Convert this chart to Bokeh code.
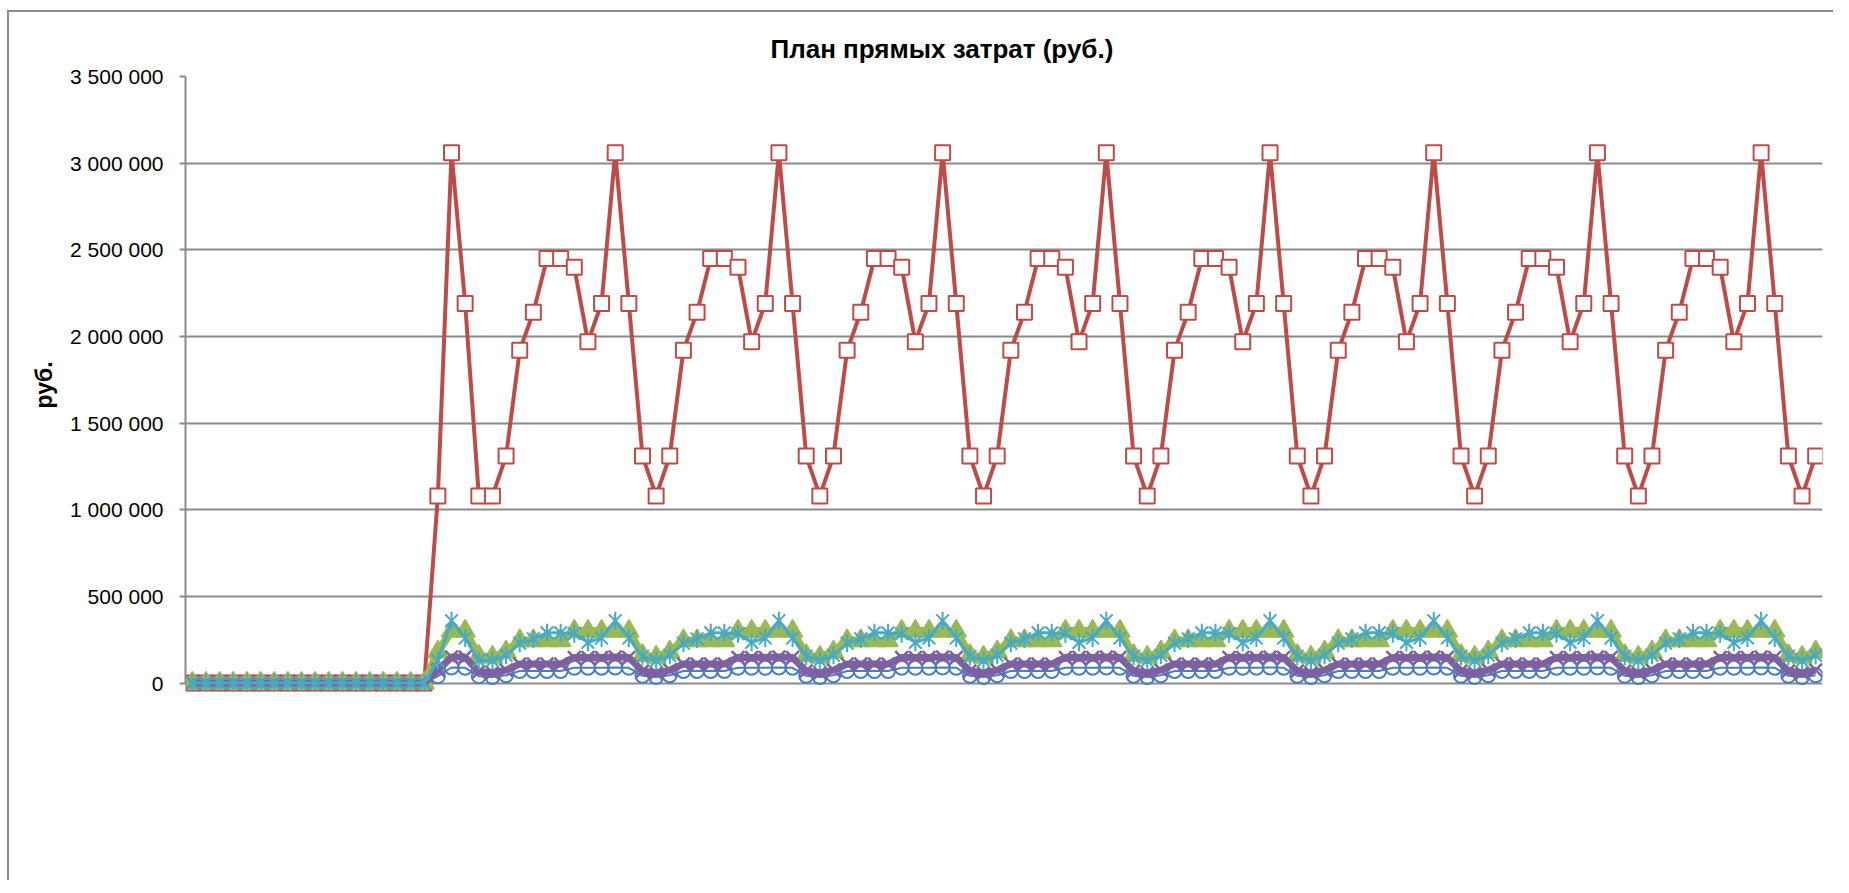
from bokeh.plotting import figure
from bokeh.models import FixedTicker, CustomJSTickFormatter, Range1d, Title
from bokeh.embed import file_html
from bokeh.resources import INLINE
import numpy as np

# Monthly plan of direct costs, thousands of rubles (120 months)
months = list(range(1, 121))

red_k = [0]*18 + [
    1080, 3060, 2190, 1080, 1080, 1310, 1920, 2140, 2450, 2450, 2400, 1970, 2190,
    3060, 2190, 1310, 1080, 1310, 1920, 2140, 2450, 2450, 2400, 1970, 2190,
    3060, 2190, 1310, 1080, 1310, 1920, 2140, 2450, 2450, 2400, 1970, 2190,
    3060, 2190, 1310, 1080, 1310, 1920, 2140, 2450, 2450, 2400, 1970, 2190,
    3060, 2190, 1310, 1080, 1310, 1920, 2140, 2450, 2450, 2400, 1970, 2190,
    3060, 2190, 1310, 1080, 1310, 1920, 2140, 2450, 2450, 2400, 1970, 2190,
    3060, 2190, 1310, 1080, 1310, 1920, 2140, 2450, 2450, 2400, 1970, 2190,
    3060, 2190, 1310, 1080, 1310, 1920, 2140, 2450, 2450, 2400, 1970, 2190,
    3060, 2190, 1310, 1080, 1310]

cyan_k = [0]*18 + [
    130, 360, 260, 130, 130, 160, 230, 255, 290, 290, 285, 235, 260,
    360, 260, 155, 130, 160, 230, 255, 290, 290, 285, 235, 260,
    360, 260, 155, 130, 160, 230, 255, 290, 290, 285, 235, 260,
    360, 260, 155, 130, 160, 230, 255, 290, 290, 285, 235, 260,
    360, 260, 155, 130, 160, 230, 255, 290, 290, 285, 235, 260,
    360, 260, 155, 130, 160, 230, 255, 290, 290, 285, 235, 260,
    360, 260, 155, 130, 160, 230, 255, 290, 290, 285, 235, 260,
    360, 260, 155, 130, 160, 230, 255, 290, 290, 285, 235, 260,
    360, 260, 155, 130, 160]

green_k = [0]*18 + [
    180, 300, 300, 155, 150, 180, 245, 245, 245, 245, 300, 300, 300,
    300, 300, 160, 150, 180, 245, 245, 245, 245, 300, 300, 300,
    300, 300, 160, 150, 180, 245, 245, 245, 245, 300, 300, 300,
    300, 300, 160, 150, 180, 245, 245, 245, 245, 300, 300, 300,
    300, 300, 160, 150, 180, 245, 245, 245, 245, 300, 300, 300,
    300, 300, 160, 150, 180, 245, 245, 245, 245, 300, 300, 300,
    300, 300, 160, 150, 180, 245, 245, 245, 245, 300, 300, 300,
    300, 300, 160, 150, 180, 245, 245, 245, 245, 300, 300, 300,
    300, 300, 160, 150, 180]

purple_k = [0]*18 + [
    75, 150, 150, 65, 60, 75, 110, 110, 110, 110, 148, 148, 148,
    150, 148, 70, 58, 75, 110, 110, 110, 110, 148, 148, 148,
    150, 148, 70, 58, 75, 110, 110, 110, 110, 148, 148, 148,
    150, 148, 70, 58, 75, 110, 110, 110, 110, 148, 148, 148,
    150, 148, 70, 58, 75, 110, 110, 110, 110, 148, 148, 148,
    150, 148, 70, 58, 75, 110, 110, 110, 110, 148, 148, 148,
    150, 148, 70, 58, 75, 110, 110, 110, 110, 148, 148, 148,
    150, 148, 70, 58, 75, 110, 110, 110, 110, 148, 148, 148,
    150, 148, 70, 58, 75]

blue_k = [0]*18 + [
    40, 90, 88, 40, 35, 45, 70, 70, 70, 70, 88, 88, 88,
    90, 88, 42, 35, 45, 70, 70, 70, 70, 88, 88, 88,
    90, 88, 42, 35, 45, 70, 70, 70, 70, 88, 88, 88,
    90, 88, 42, 35, 45, 70, 70, 70, 70, 88, 88, 88,
    90, 88, 42, 35, 45, 70, 70, 70, 70, 88, 88, 88,
    90, 88, 42, 35, 45, 70, 70, 70, 70, 88, 88, 88,
    90, 88, 42, 35, 45, 70, 70, 70, 70, 88, 88, 88,
    90, 88, 42, 35, 45, 70, 70, 70, 70, 88, 88, 88,
    90, 88, 42, 35, 45]

y_ticks = [0, 500000, 1000000, 1500000, 2000000, 2500000, 3000000, 3500000]

red = np.array(red_k) * 1000
cyan = np.array(cyan_k) * 1000
green = np.array(green_k) * 1000
purple = np.array(purple_k) * 1000
blue = np.array(blue_k) * 1000

W, H = 1826, 870
# frame extends slightly below zero so that markers at zero are not clipped
p = figure(width=W, height=H, output_backend="svg", toolbar_location=None,
           x_range=Range1d(0.5, 120.5), y_range=Range1d(-60000, 3500000),
           min_border_left=176, min_border_top=64, min_border_bottom=189,
           min_border_right=13)
p.styles = {"border-left": "2px solid #8a8a8a", "border-top": "2px solid #8a8a8a",
            "margin-left": "7px", "margin-top": "10px"}

p.title = Title(text="План прямых затрат (руб.)", align="left",
                text_font="Liberation Sans", text_font_size="26px",
                text_font_style="bold", text_color="#000000",
                standoff=26, offset=585)

GRID = "#8a8a8a"
p.xgrid.visible = False
p.ygrid.grid_line_color = GRID
p.ygrid.grid_line_width = 2
p.ygrid.ticker = FixedTicker(ticks=y_ticks)
p.outline_line_color = None

p.yaxis.ticker = FixedTicker(ticks=y_ticks)
p.yaxis.bounds = (0, 3500000)
p.yaxis.formatter = CustomJSTickFormatter(code="""
return tick.toFixed(0).replace(/\\B(?=(\\d{3})+(?!\\d))/g, ' ');
""")
p.yaxis.axis_line_color = GRID
p.yaxis.axis_line_width = 2
p.yaxis.major_tick_line_color = GRID
p.yaxis.major_tick_line_width = 2
p.yaxis.major_tick_out = 6
p.yaxis.major_tick_in = 0
p.yaxis.minor_tick_line_color = None
p.yaxis.major_label_text_font = "Liberation Sans"
p.yaxis.major_label_text_font_size = "21px"
p.yaxis.major_label_text_color = "#000000"
p.yaxis.major_label_standoff = 16
p.yaxis.axis_label = "руб."
p.yaxis.axis_label_text_font = "Liberation Sans"
p.yaxis.axis_label_text_font_size = "23px"
p.yaxis.axis_label_text_font_style = "bold"
p.yaxis.axis_label_text_color = "#000000"
p.yaxis.axis_label_standoff = 10

p.xaxis.visible = False

C_BLUE = "#4A7EBB"
C_RED = "#BE4B48"
C_GREEN = "#98B954"
C_PURPLE = "#7D60A0"
C_CYAN = "#46AAC5"

# blue circles
p.line(months, blue, line_color=C_BLUE, line_width=2)
p.scatter(months, blue, marker="circle", size=14, fill_color=None,
          line_color=C_BLUE, line_width=2)
# red squares
p.line(months, red, line_color=C_RED, line_width=4)
p.scatter(months, red, marker="square", size=15, fill_color="white",
          line_color=C_RED, line_width=2)
# green triangles
p.line(months, green, line_color=C_GREEN, line_width=8)
p.scatter(months, green, marker="triangle", size=20, fill_color=C_GREEN,
          line_color=C_GREEN, line_width=1.5)
# purple x
p.line(months, purple, line_color=C_PURPLE, line_width=7)
p.scatter(months, purple, marker="x", size=18, line_color=C_PURPLE,
          line_width=2.5)
# cyan stars (x plus vertical stroke)
p.line(months, cyan, line_color=C_CYAN, line_width=3)
p.scatter(months, cyan, marker="x", size=18, line_color=C_CYAN,
          line_width=2)
p.scatter(months, cyan, marker="dash", angle=np.pi/2, size=18,
          line_color=C_CYAN, line_width=2)

open("out.html", "w").write(file_html(p, INLINE))
